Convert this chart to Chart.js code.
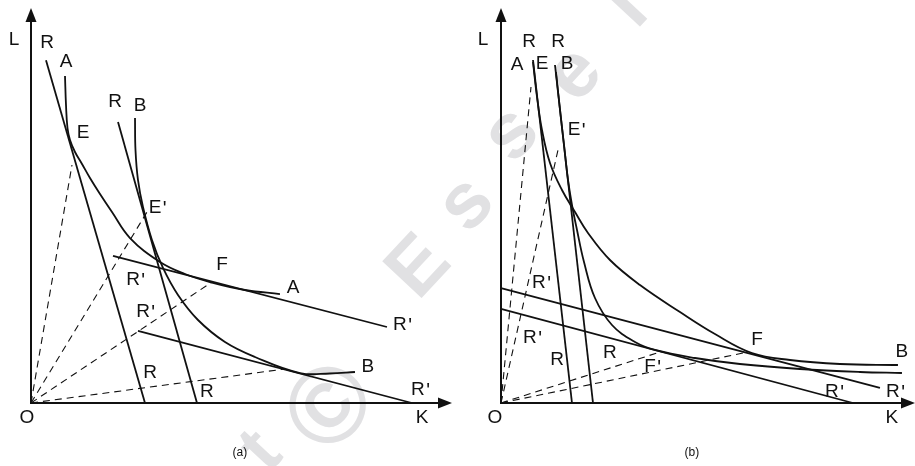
<!DOCTYPE html>
<html>
<head>
<meta charset="utf-8">
<script src="https://cdn.jsdelivr.net/npm/chart.js@4.4.1/dist/chart.umd.min.js"></script>
<style>
  html, body { margin: 0; padding: 0; background: #fff; }
  #wrap { position: relative; width: 915px; height: 466px; overflow: hidden; }
  #wrap canvas { position: absolute; top: 0; }
</style>
</head>
<body>
<div id="wrap">
  <canvas id="wm" width="915" height="466" style="left:0"></canvas>
  <canvas id="chartA" width="458" height="466" style="left:0"></canvas>
  <canvas id="chartB" width="457" height="466" style="left:458px"></canvas>
</div>
<script>
// axis ranges (K across, L up)
const kMaxA = 105, kMaxB = 103, lMax = 100;

// ---- panel (a) ----
const aIsoA = [[8.48,82.78],[8.73,75.44],[9.10,69.62],[9.73,66.58],[10.97,63.54],[12.72,60.51],[14.71,56.96],[17.21,52.91],[20.20,48.35],[24.69,41.77],[32.17,35.70],[38.40,32.66],[44.64,30.63],[53.37,28.61],[62.09,27.59]];
const aIsoB = [[25.94,72.15],[26.06,64.05],[26.68,56.46],[27.93,49.62],[30.17,41.27],[32.92,34.18],[36.66,27.34],[41.65,21.01],[48.38,15.44],[55.86,11.65],[67.08,7.59],[74.56,7.47],[80.80,7.85]];
const aR1 = [[3.74,86.8],[28.43,0]];
const aR2 = [[21.70,71.14],[41.40,0]];
const aRp1 = [[20.45,37.22],[88.78,19.24]];
const aRp2 = [[26.68,18.23],[95.01,0]];
const aRays = [[10.22,60.25],[28.93,48.35],[45.14,30.63],[63.34,8.61]];
const aLabels = [
  ['L',-4.24,91.9],['R',3.99,91.14],['A',8.73,86.33],['E',12.97,68.35],
  ['R',20.95,76.2],['B',27.18,75.19],["E'",30.92,49.37],['F',47.63,34.94],
  ['A',65.34,29.11],["R'",25.44,31.14],["R'",27.93,23.04],["R'",92.02,19.75],
  ['B',84.04,9.11],['R',29.68,7.59],['R',43.89,2.78],["R'",96.51,3.29],
  ['O',-1.0,-3.8],['K',97.51,-3.8],['(a)',52.1,-12.66,12]
];

// ---- panel (b) ----
const bIsoA = [[7.96,86.33],[8.96,77.47],[10.20,69.11],[12.19,60.76],[15.17,53.92],[18.41,48.35],[21.64,43.04],[27.11,36.20],[34.58,29.87],[44.53,23.04],[53.23,17.47],[62.44,12.66],[71.89,10.89],[84.33,9.87],[98.76,9.62]];
const bIsoB = [[13.68,83.80],[14.68,74.18],[15.67,65.32],[16.67,56.46],[17.66,50.13],[18.91,43.80],[20.65,35.70],[23.38,26.58],[27.61,19.75],[33.33,15.44],[38.31,13.42],[48.26,11.39],[59.45,9.87],[74.38,8.61],[89.30,7.85],[99.75,7.59]];
const bR1 = [[7.96,86.84],[17.66,0]];
const bR2 = [[13.43,85.57],[22.89,0]];
const bRp1 = [[0,29.11],[94.28,3.80]];
const bRp2 = [[0,23.80],[87.56,0]];
const bRays = [[7.46,80.0],[14.18,64.05],[38.81,12.66],[61.44,12.91]];
const bLabels = [
  ['L',-4.48,91.9],['R',6.97,91.39],['R',14.18,91.39],['A',3.98,85.57],
  ['E',10.2,85.82],['B',16.42,85.82],["E'",18.16,69.11],["R'",9.45,30.38],
  ["R'",7.21,16.46],['R',13.93,10.89],['R',27.11,12.66],["F'",37.06,9.11],
  ['F',63.68,15.95],['B',99.75,12.91],["R'",82.34,2.78],["R'",97.51,2.78],
  ['O',-1.49,-3.8],['K',97.26,-3.8],['(b)',47.5,-12.66,12]
];

const INK = '#111';
const FONT = '"Liberation Sans", Arial, sans-serif';
const pts = arr => arr.map(p => ({x: p[0], y: p[1]}));

function solid(arr, curved) {
  return { data: pts(arr), showLine: true, borderColor: INK, borderWidth: 1.8,
           pointRadius: 0, tension: curved ? 0.4 : 0, clip: false };
}
function dashed(end) {
  return { data: pts([[0,0], end]), showLine: true, borderColor: INK, borderWidth: 1.1,
           borderDash: [7,5], pointRadius: 0, tension: 0, clip: false };
}

// axes with arrowheads plus letter labels
const diagram = {
  id: 'diagram',
  beforeDatasetsDraw(chart) {
    const {ctx, chartArea: a} = chart;
    const ox = chart.scales.x.getPixelForValue(0), oy = chart.scales.y.getPixelForValue(0);
    ctx.save();
    ctx.strokeStyle = INK; ctx.fillStyle = INK; ctx.lineWidth = 2;
    ctx.beginPath();
    ctx.moveTo(ox, a.top + 10); ctx.lineTo(ox, oy); ctx.lineTo(a.right - 10, oy);
    ctx.stroke();
    ctx.beginPath();
    ctx.moveTo(ox, a.top); ctx.lineTo(ox - 5.5, a.top + 14); ctx.lineTo(ox + 5.5, a.top + 14);
    ctx.closePath(); ctx.fill();
    ctx.beginPath();
    ctx.moveTo(a.right, oy); ctx.lineTo(a.right - 14, oy - 5.5); ctx.lineTo(a.right - 14, oy + 5.5);
    ctx.closePath(); ctx.fill();
    ctx.restore();
  },
  afterDatasetsDraw(chart, args, opts) {
    const {ctx} = chart;
    const sx = chart.scales.x, sy = chart.scales.y;
    ctx.save();
    ctx.fillStyle = INK;
    opts.labels.forEach(([txt, x, y, size]) => {
      const px = sx.getPixelForValue(x), py = sy.getPixelForValue(y);
      const prime = txt.endsWith("'");
      const base = prime ? txt.slice(0, -1) : txt;
      ctx.font = (size || 19) + 'px ' + FONT;
      ctx.textAlign = 'center';
      ctx.textBaseline = 'middle';
      ctx.fillText(base, px, py);
      if (prime) {
        // thin prime mark at the top right of the letter
        const w = ctx.measureText(base).width;
        ctx.font = '20px ' + FONT;
        ctx.textAlign = 'left';
        ctx.textBaseline = 'alphabetic';
        ctx.fillText("'", px + w / 2 + 1.5, py + 7);
      }
    });
    ctx.restore();
  }
};

function makeChart(id, kMax, pad, sets, labels) {
  return new Chart(document.getElementById(id), {
    type: 'scatter',
    data: { datasets: sets },
    options: {
      responsive: false,
      animation: false,
      devicePixelRatio: 1,
      layout: { padding: pad },
      scales: {
        x: { type: 'linear', min: 0, max: kMax, display: false },
        y: { type: 'linear', min: 0, max: lMax, display: false }
      },
      plugins: { legend: { display: false }, tooltip: { enabled: false },
                 diagram: { labels: labels } }
    },
    plugins: [diagram]
  });
}

// faint diagonal watermark behind both panels
(function () {
  const c = document.getElementById('wm').getContext('2d');
  const glyphs = [['t',262,452,72],['©',333,410,108],['E',420,268,78],['s',467,205,78],
                  ['s',512,135,78],['e',575,75,78],['l',628,8,78]];
  c.fillStyle = '#e1e1e3';
  c.textAlign = 'center';
  c.textBaseline = 'middle';
  glyphs.forEach(([g, x, y, s]) => {
    c.save();
    c.translate(x, y);
    c.rotate(-47 * Math.PI / 180);
    c.font = 'bold ' + s + 'px ' + FONT;
    c.fillText(g, 0, 0);
    c.restore();
  });
})();

makeChart('chartA', kMaxA, {left: 31, right: 6, top: 8, bottom: 63}, [
  ...aRays.map(dashed),
  solid(aR1), solid(aR2), solid(aRp1), solid(aRp2),
  solid(aIsoA, true), solid(aIsoB, true)
], aLabels);

makeChart('chartB', kMaxB, {left: 43, right: 0, top: 8, bottom: 63}, [
  ...bRays.map(dashed),
  solid(bR1), solid(bR2), solid(bRp1), solid(bRp2),
  solid(bIsoA, true), solid(bIsoB, true)
], bLabels);
</script>
</body>
</html>
